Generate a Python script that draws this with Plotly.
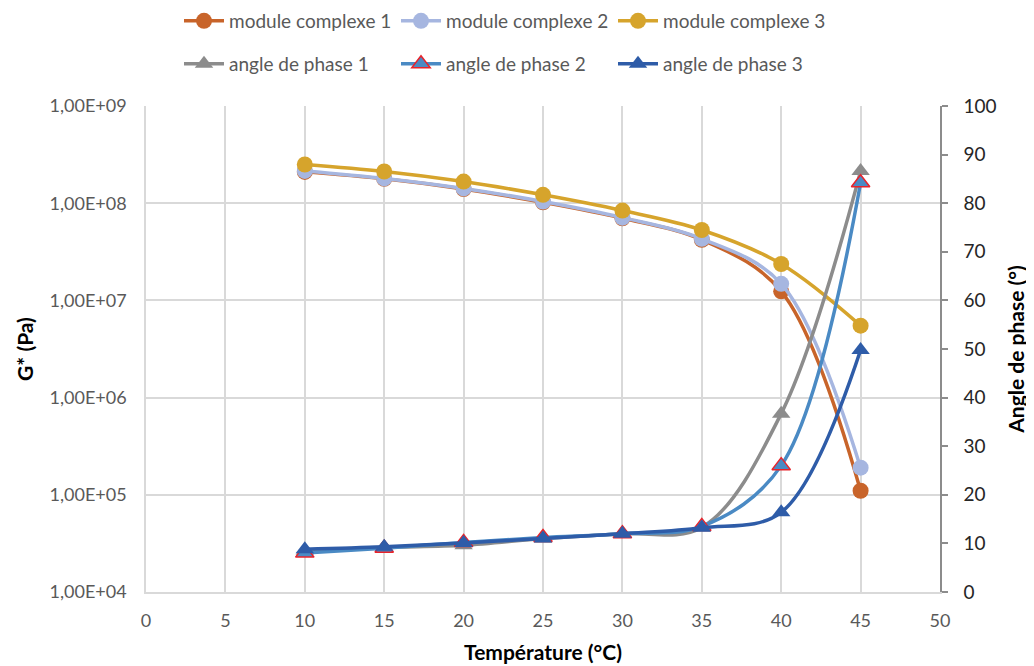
import plotly.graph_objects as go

temps = [10, 15, 20, 25, 30, 35, 40, 45]
g1 = [2.1e8, 1.78e8, 1.4e8, 1.02e8, 7.0e7, 4.2e7, 1.24e7, 1.1e5]
g2 = [2.15e8, 1.8e8, 1.42e8, 1.04e8, 7.1e7, 4.3e7, 1.48e7, 1.9e5]
g3 = [2.5e8, 2.12e8, 1.67e8, 1.22e8, 8.4e7, 5.3e7, 2.37e7, 5.5e6]
p1 = [8.5, 9.2, 9.6, 11.0, 12.0, 13.3, 36.7, 86.6]
p2 = [8.0, 9.0, 10.2, 11.2, 12.0, 13.5, 26.0, 84.2]
p3 = [8.8, 9.3, 10.1, 11.0, 12.0, 13.2, 16.4, 49.8]

left_vals = [1e4, 1e5, 1e6, 1e7, 1e8, 1e9]
left_text = ["1,00E+04", "1,00E+05", "1,00E+06", "1,00E+07", "1,00E+08", "1,00E+09"]

FONT = "Lato"
TXT = "#595959"
GRID = "#D9D9D9"
W, H = 1026, 658  # page body has an 8px default margin

fig = go.Figure()

def add(name, y, color, symbol, yaxis, legend, edge=None):
    fig.add_trace(go.Scatter(
        x=temps, y=y, name=name, yaxis=yaxis, legend=legend,
        mode="lines+markers",
        line=dict(color=color, width=3.5, shape="spline", smoothing=1.0),
        marker=dict(symbol=symbol, size=16, color=color,
                    line=dict(color=edge or color, width=1.5 if edge else 0)),
    ))

add("module complexe 1", g1, "#C8642A", "circle", "y", "legend")
add("module complexe 2", g2, "#A6B6E0", "circle", "y", "legend")
add("module complexe 3", g3, "#D6A42C", "circle", "y", "legend")
add("angle de phase 1", p1, "#8C8C8C", "triangle-up", "y2", "legend2")
add("angle de phase 2", p2, "#4A8AC4", "triangle-up", "y2", "legend2", edge="#E8232A")
add("angle de phase 3", p3, "#2E5CA8", "triangle-up", "y2", "legend2")

leg_common = dict(orientation="h", xref="container", yref="container",
                  xanchor="left", yanchor="middle", entrywidth=162,
                  itemwidth=40, font=dict(size=19, color=TXT, family=FONT),
                  bgcolor="rgba(0,0,0,0)")

fig.update_layout(
    width=W, height=H,
    margin=dict(l=138, r=94, t=98, b=74, autoexpand=False),
    paper_bgcolor="white", plot_bgcolor="white",
    font=dict(family=FONT, size=18, color=TXT),
    showlegend=True,
    legend=dict(x=171 / W, y=1 - 13 / H, **leg_common),
    legend2=dict(x=171 / W, y=1 - 56 / H, **leg_common),
    xaxis=dict(range=[0, 50], dtick=5, tick0=0, showgrid=True, gridcolor=GRID, gridwidth=1.5,
               zeroline=False, showline=True, linecolor=GRID, linewidth=1.5,
               ticks="", ticklabelstandoff=12, automargin=False,
               title=dict(text="<b>Température (°C)</b>", font=dict(size=21, color="#000000"), standoff=15)),
    yaxis=dict(type="log", range=[4, 9], tickvals=left_vals, ticktext=left_text,
               showgrid=True, gridcolor=GRID, gridwidth=1.5, zeroline=False, showline=True,
               linecolor=GRID, linewidth=1.5, ticks="", ticklabelstandoff=14, automargin=False,
               title=dict(text="<b>G* (Pa)</b>", font=dict(size=21, color="#000000"), standoff=10)),
    yaxis2=dict(overlaying="y", side="right", range=[0, 100], dtick=10, showgrid=False,
                zeroline=False, showline=True, linecolor="#8C8C8C", linewidth=1.5,
                ticks="outside", ticklen=6, tickcolor="#8C8C8C", tickwidth=1.5,
                ticklabelstandoff=12, automargin=False,
                tickfont=dict(color="#262626", size=19),
                title=dict(text="<b>Angle de phase (°)</b>", font=dict(size=21, color="#000000"), standoff=14)),
)

fig.write_html("out.html")
